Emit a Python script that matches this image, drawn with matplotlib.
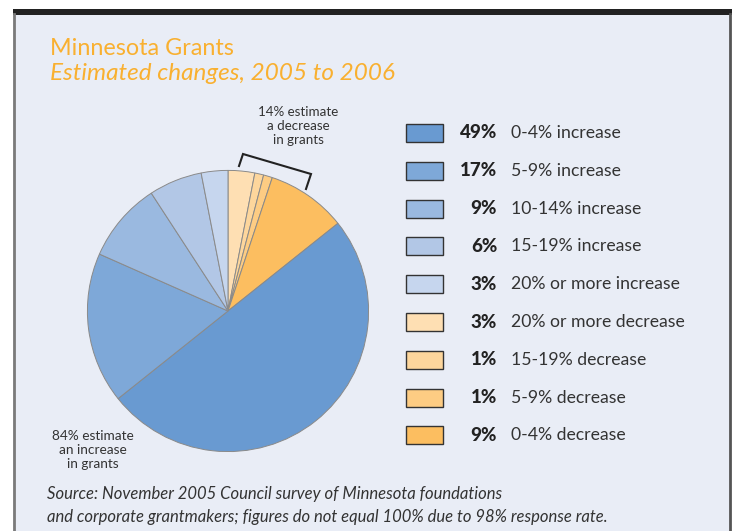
import matplotlib.pyplot as plt
from matplotlib.patches import Rectangle

# clockwise from 12 o'clock
shares = [3, 1, 1, 9, 49, 17, 9, 6, 3]
slice_colors = ["#FEDFB3", "#FDD69C", "#FDCC83", "#FCBE60",
                "#699AD1", "#7EA8D8", "#9AB9E0", "#B2C7E6", "#C6D6EE"]

# legend order (top to bottom)
legend_pcts = ["49%", "17%", "9%", "6%", "3%", "3%", "1%", "1%", "9%"]
legend_labels = ["0-4% increase", "5-9% increase", "10-14% increase",
                 "15-19% increase", "20% or more increase",
                 "20% or more decrease", "15-19% decrease",
                 "5-9% decrease", "0-4% decrease"]
legend_colors = ["#699AD1", "#7EA8D8", "#9AB9E0", "#B2C7E6", "#C6D6EE",
                 "#FEDFB3", "#FDD69C", "#FDCC83", "#FCBE60"]

W, H = 732, 531
bg = "#E9EDF6"
txt = "#333333"
orange = "#F9B030"
plt.rcParams['font.family'] = ['Lato', 'DejaVu Sans']

fig = plt.figure(figsize=(W / 100, H / 100), dpi=100)
fig.patch.set_facecolor("white")

# full-figure overlay in pixel coordinates
bx = fig.add_axes([0, 0, 1, 1])
bx.set_xlim(0, W)
bx.set_ylim(H, 0)
bx.axis('off')

# panel, top bar, side borders
bx.add_patch(Rectangle((13, 14), 717, 520, facecolor=bg, edgecolor="none"))
bx.add_patch(Rectangle((13, 9), 719, 6, facecolor="#222222", edgecolor="none"))
bx.plot([13.5, 13.5], [14, 531], color="#7a7a7a", lw=2)
bx.plot([730, 730], [14, 531], color="#555555", lw=2)

# title
bx.text(50, 55, "Minnesota Grants", color=orange, fontsize=16.8, va="baseline")
bx.text(50, 80, "Estimated changes, 2005 to 2006", color=orange, fontsize=17.5,
        style="italic", va="baseline")

# pie
cx, cy, r = 228, 311, 142
pax = fig.add_axes([(cx - r) / W, 1 - (cy + r) / H, 2 * r / W, 2 * r / H])
pax.pie(shares, colors=slice_colors, startangle=90, counterclock=False,
        wedgeprops={'linewidth': 0.7, 'edgecolor': '#8a8a8a'})
pax.set_xlim(-1.01, 1.01)
pax.set_ylim(-1.01, 1.01)
pax.axis('off')

# bracket + notes
bx.plot([239, 243, 311, 306], [166, 154, 174, 189], color="#222222", lw=1.5,
        solid_joinstyle="miter")
bx.text(298, 126, "14% estimate\na decrease\nin grants", ha="center",
        va="center", fontsize=9.6, color=txt, linespacing=1.15)
bx.text(93, 450, "84% estimate\nan increase\nin grants", ha="center",
        va="center", fontsize=9.8, color=txt, linespacing=1.15)

# legend
for i, (p, lab, c) in enumerate(zip(legend_pcts, legend_labels, legend_colors)):
    y = 133 + i * 37.8
    bx.add_patch(Rectangle((406, y - 9), 37, 18, facecolor=c,
                           edgecolor="#333333", lw=1))
    bx.text(497, y, p, ha="right", va="center", fontsize=13.5, weight="black",
            color="#222222")
    bx.text(511, y, lab, ha="left", va="center", fontsize=12.7, color=txt)

# source
bx.text(47, 494, "Source: November 2005 Council survey of Minnesota foundations",
        fontsize=12, style="italic", color=txt, va="center")
bx.text(47, 517, "and corporate grantmakers; figures do not equal 100% due to 98% response rate.",
        fontsize=12, style="italic", color=txt, va="center")

fig.savefig("out.png", dpi=100, facecolor=fig.get_facecolor())
